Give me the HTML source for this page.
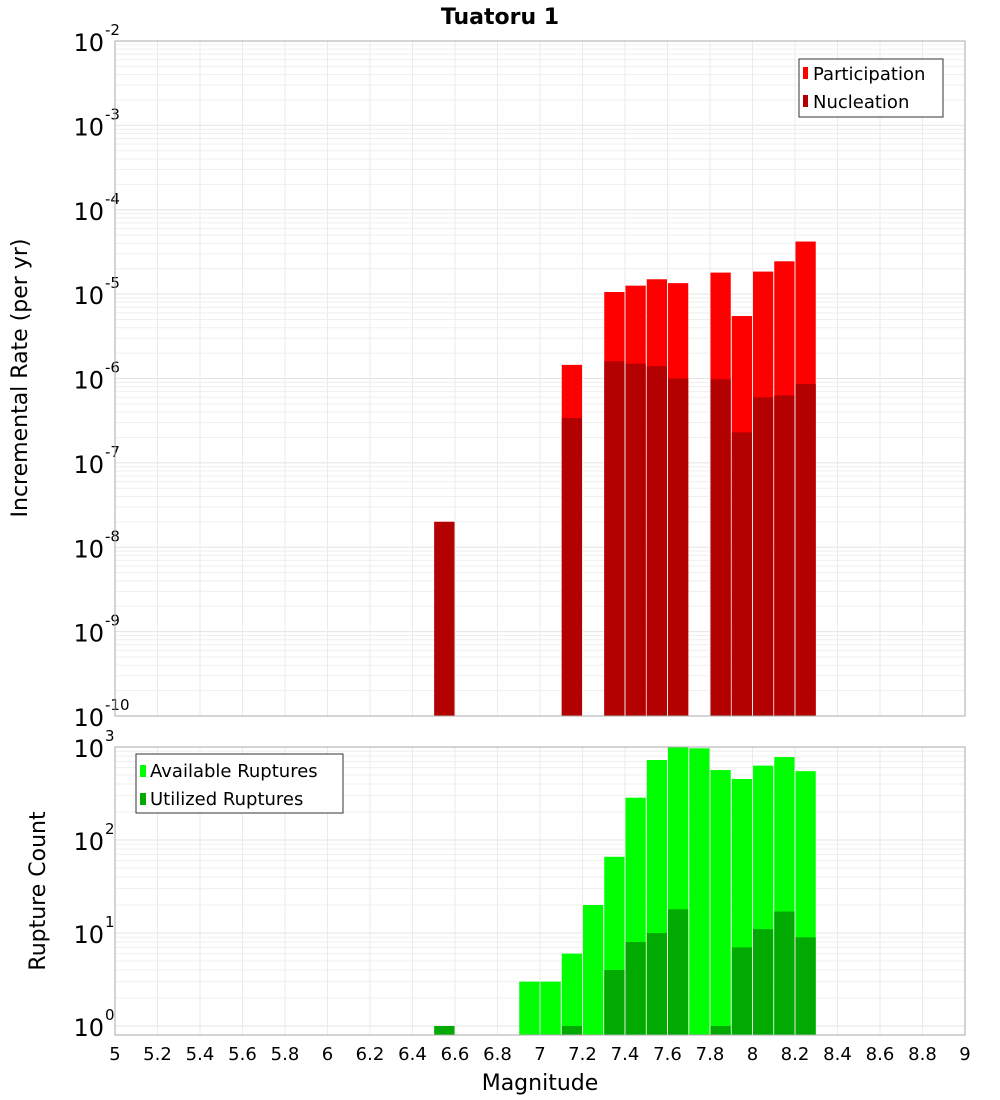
<!DOCTYPE html>
<html><head><meta charset="utf-8"><style>
body{margin:0;background:#fff;width:1000px;height:1100px;overflow:hidden}
svg{display:block;font-family:"DejaVu Sans","Liberation Sans",sans-serif}
</style></head><body>
<svg id="c" width="1000" height="1100">
<text x="500" y="24" text-anchor="middle" font-size="22" font-weight="bold">Tuatoru 1</text>
<g id="top"></g>
<g id="bot"></g>
<text transform="translate(27,378) rotate(-90)" text-anchor="middle" font-size="22">Incremental Rate (per yr)</text>
<text transform="translate(45,891) rotate(-90)" text-anchor="middle" font-size="22">Rupture Count</text>
<text x="540" y="1090" text-anchor="middle" font-size="22">Magnitude</text>
<g>
<rect x="799" y="59" width="144" height="58" fill="#fff" stroke="#333"/>
<rect x="803" y="67" width="5" height="12" fill="#ff0000"/><text x="813" y="80" font-size="18">Participation</text>
<rect x="803" y="95" width="5" height="12" fill="#b30000"/><text x="813" y="108" font-size="18">Nucleation</text>
</g>
<g>
<rect x="136" y="754" width="207" height="59" fill="#fff" stroke="#333"/>
<rect x="140" y="765" width="6" height="12" fill="#00ff00"/><text x="150" y="777" font-size="18">Available Ruptures</text>
<rect x="140" y="793" width="6" height="12" fill="#00aa00"/><text x="150" y="805" font-size="18">Utilized Ruptures</text>
</g>
</svg>
<script>
const topMags=[6.55,7.15,7.35,7.45,7.55,7.65,7.85,7.95,8.05,8.15,8.25];
const participation=[2.0e-8,1.45e-6,1.06e-5,1.26e-5,1.5e-5,1.35e-5,1.8e-5,5.5e-6,1.85e-5,2.45e-5,4.2e-5];
const nucleation=[2.0e-8,3.4e-7,1.6e-6,1.5e-6,1.4e-6,1.0e-6,9.8e-7,2.3e-7,6.0e-7,6.3e-7,8.6e-7];
const botMags=[6.55,6.95,7.05,7.15,7.25,7.35,7.45,7.55,7.65,7.75,7.85,7.95,8.05,8.15,8.25];
const available=[1,3,3,6,20,66,285,725,1000,968,565,453,630,780,550];
const utilized=[1,0,0,1,0,4,8,10,18,0,1,7,11,17,9];
const xTicks=[5,5.2,5.4,5.6,5.8,6,6.2,6.4,6.6,6.8,7,7.2,7.4,7.6,7.8,8,8.2,8.4,8.6,8.8,9];
const topExp=[-10,-9,-8,-7,-6,-5,-4,-3,-2];
const botExp=[0,1,2,3];
const NS='http://www.w3.org/2000/svg';
const X0=115,X1=965;
const xs=m=>X0+(m-5)/4*(X1-X0);
function el(p,t,a){const e=document.createElementNS(NS,t);for(const k in a)e.setAttribute(k,a[k]);p.appendChild(e);return e;}
const topY=v=>41+(-2-Math.log10(v))*84.375;
const botY=v=>1026-Math.log10(v)*93;
function panel(g,yT,yB,yf,exps,minV,maxV,pfx){
  el(g,'rect',{x:X0,y:yT,width:X1-X0,height:yB-yT,fill:'#fff'});
  for(const e of exps){for(let k=1;k<10;k++){const v=k*Math.pow(10,e);if(v<minV||v>maxV)continue;const y=yf(v);
    const l=el(g,'line',{x1:X0,x2:X1,y1:y,y2:y,stroke:k==1?'#e4e4e4':'#efefef','stroke-width':1});
    }}
  for(const t of xTicks){const x=xs(t);const l=el(g,'line',{x1:x,x2:x,y1:yT,y2:yB,stroke:'#ebebeb'});
    }
  for(const e of exps){const y=yf(Math.pow(10,e));const t=el(g,'text',{x:104,y:y+10,'text-anchor':'end','font-size':24});
    
    t.textContent='10';const s=el(g,'text',{x:105,y:y-6,'font-size':15});s.textContent=String(e);
    }
}
const T=document.getElementById('top'),B=document.getElementById('bot');
panel(T,41,716,topY,topExp,1e-10,1e-2,'top');
panel(B,747,1035,botY,botExp,0.8,1000,'bottom');
const bw=(X1-X0)*0.1/4;
function bars(g,mags,vals,yf,base,col,name){
  mags.forEach((m,i)=>{if(!(vals[i]>0))return;const y=Math.max(yf(vals[i]),base[0]);
    const r=el(g,'rect',{x:xs(m)-bw/2+0.5,y:y,width:bw-1,height:base[1]-y,fill:col});
    });
}
bars(T,topMags,participation,topY,[41,716],'#ff0000','participation');
bars(T,topMags,nucleation,topY,[41,716],'#b30000','nucleation');
bars(B,botMags,available,botY,[747,1035],'#00ff00','available');
bars(B,botMags,utilized,botY,[747,1035],'#00aa00','utilized');
el(T,'rect',{x:X0,y:41,width:X1-X0,height:675,fill:'none',stroke:'#aaa'});
el(B,'rect',{x:X0,y:747,width:X1-X0,height:288,fill:'none',stroke:'#aaa'});
xTicks.forEach(t=>{const tx=el(B,'text',{x:xs(t),y:1060,'text-anchor':'middle','font-size':18});
  
  tx.textContent=String(t);});
</script>
</body></html>
